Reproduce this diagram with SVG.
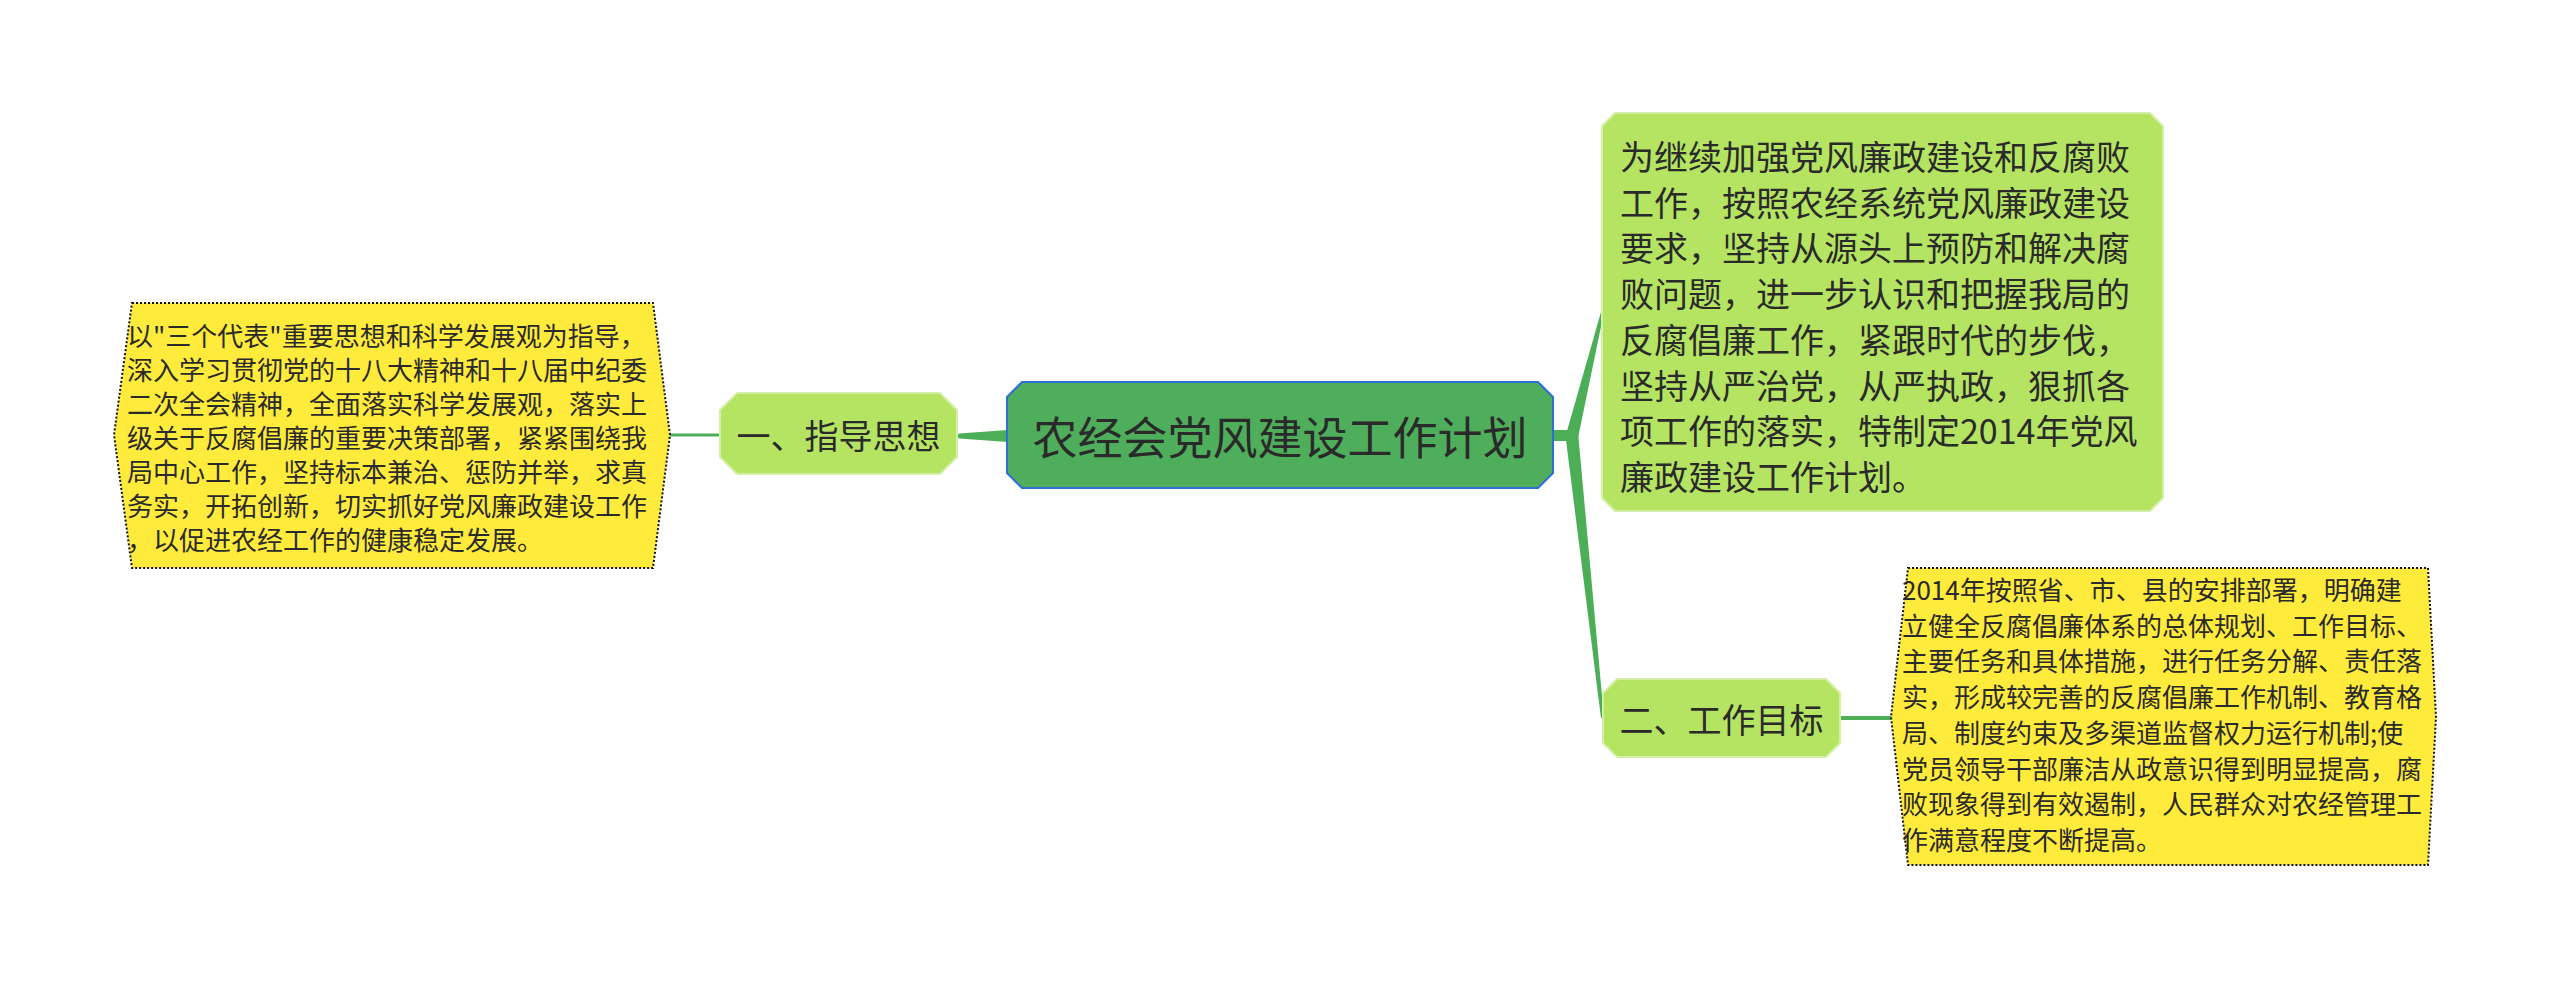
<svg xmlns="http://www.w3.org/2000/svg" width="2560" height="981" viewBox="0 0 2560 981">
<style>
text{font-family:"Noto Sans CJK SC","Noto Sans",sans-serif;fill:#2a2a2a;dominant-baseline:central}
.y{fill:#ffeb3b;stroke:#111;stroke-width:2;stroke-dasharray:2 2}
.lg{fill:#b5e462;stroke:#d4f0a8;stroke-width:2}
.c{fill:#4fae5b;stroke:#2e6fd6;stroke-width:2}
.ln{stroke:#4caf57;fill:none}
.con{fill:#4caf57}
.s26{font-size:26px}
.s34{font-size:34px}
</style>
<rect width="2560" height="981" fill="#fff"/>
<g id="connectors">
<polygon class="con" points="1008,430 1008,442 959,438.5 957,436 959,433.5"/>
<line class="ln" x1="668" y1="435" x2="721" y2="435" stroke-width="3"/>
<rect class="con" x="1552" y="430" width="16" height="11"/>
<polygon class="con" points="1565,438 1601,312 1604,312 1578,438"/>
<polygon class="con" points="1565,432 1578,432 1604,718 1601,718"/>
<line class="ln" x1="1839" y1="718" x2="1896" y2="718" stroke-width="4"/>
</g>
<g id="root">
<polygon class="c" points="1022,382 1538,382 1553,397 1553,473 1538,488 1022,488 1007,473 1007,397"/>
<text x="1280" y="435" font-size="45" text-anchor="middle">农经会党风建设工作计划</text>
</g>
<g id="n1">
<polygon class="lg" points="737,393 940,393 957,410 957,457 940,474 737,474 720,457 720,410"/>
<text x="838.5" y="434" class="s34" text-anchor="middle">一、指导思想</text>
</g>
<g id="n1a">
<polygon class="y" points="132,303 653,303 670,435 653,568 132,568 114,435"/>
<text class="s26" x="127">
<tspan x="127" y="334">以"三个代表"重要思想和科学发展观为指导，</tspan>
<tspan x="127" y="368">深入学习贯彻党的十八大精神和十八届中纪委</tspan>
<tspan x="127" y="402">二次全会精神，全面落实科学发展观，落实上</tspan>
<tspan x="127" y="436">级关于反腐倡廉的重要决策部署，紧紧围绕我</tspan>
<tspan x="127" y="470">局中心工作，坚持标本兼治、惩防并举，求真</tspan>
<tspan x="127" y="504">务实，开拓创新，切实抓好党风廉政建设工作</tspan>
<tspan x="127" y="538">，以促进农经工作的健康稳定发展。</tspan>
</text>
</g>
<g id="n0">
<polygon class="lg" points="1615,113 2150,113 2163,126 2163,498 2150,511 1615,511 1602,498 1602,126"/>
<text class="s34" x="1620">
<tspan x="1620" y="155">为继续加强党风廉政建设和反腐败</tspan>
<tspan x="1620" y="200.7">工作，按照农经系统党风廉政建设</tspan>
<tspan x="1620" y="246.4">要求，坚持从源头上预防和解决腐</tspan>
<tspan x="1620" y="292.1">败问题，进一步认识和把握我局的</tspan>
<tspan x="1620" y="337.8">反腐倡廉工作，紧跟时代的步伐，</tspan>
<tspan x="1620" y="383.5">坚持从严治党，从严执政，狠抓各</tspan>
<tspan x="1620" y="429.2">项工作的落实，特制定2014年党风</tspan>
<tspan x="1620" y="474.9">廉政建设工作计划。</tspan>
</text>
</g>
<g id="n2">
<polygon class="lg" points="1617,679 1826,679 1840,693 1840,743 1826,757 1617,757 1603,743 1603,693"/>
<text x="1721.5" y="718" class="s34" text-anchor="middle">二、工作目标</text>
</g>
<g id="n2a">
<polygon class="y" points="1908,568 2428,568 2436,717 2428,865 1908,865 1891,717"/>
<text class="s26" x="1902">
<tspan x="1902" y="588">2014年按照省、市、县的安排部署，明确建</tspan>
<tspan x="1902" y="623.7">立健全反腐倡廉体系的总体规划、工作目标、</tspan>
<tspan x="1902" y="659.4">主要任务和具体措施，进行任务分解、责任落</tspan>
<tspan x="1902" y="695.1">实，形成较完善的反腐倡廉工作机制、教育格</tspan>
<tspan x="1902" y="730.8">局、制度约束及多渠道监督权力运行机制;使</tspan>
<tspan x="1902" y="766.5">党员领导干部廉洁从政意识得到明显提高，腐</tspan>
<tspan x="1902" y="802.2">败现象得到有效遏制，人民群众对农经管理工</tspan>
<tspan x="1902" y="837.9">作满意程度不断提高。</tspan>
</text>
</g>
</svg>
